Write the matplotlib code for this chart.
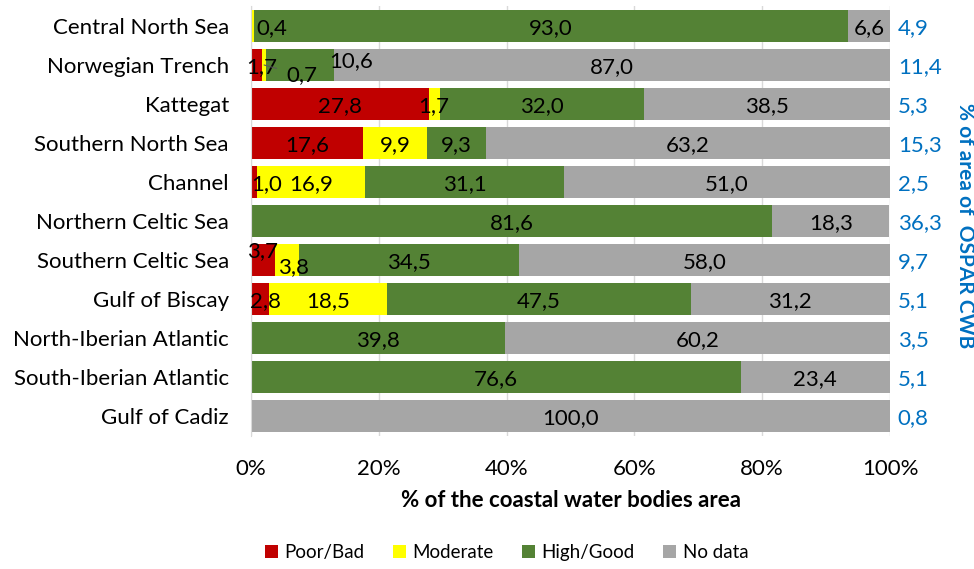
import matplotlib.pyplot as plt
import numpy as np

plt.rcParams["font.family"] = ["Lato", "DejaVu Sans"]

regions = [
    "Central North Sea", "Norwegian Trench", "Kattegat", "Southern North Sea",
    "Channel", "Northern Celtic Sea", "Southern Celtic Sea", "Gulf of Biscay",
    "North-Iberian Atlantic", "South-Iberian Atlantic", "Gulf of Cadiz",
]
poor = [0.0, 1.7, 27.8, 17.6, 1.0, 0.0, 3.7, 2.8, 0.0, 0.0, 0.0]
moderate = [0.4, 0.7, 1.7, 9.9, 16.9, 0.0, 3.8, 18.5, 0.0, 0.0, 0.0]
good = [93.0, 10.6, 32.0, 9.3, 31.1, 81.6, 34.5, 47.5, 39.8, 76.6, 0.0]
no_data = [6.6, 87.0, 38.5, 63.2, 51.0, 18.3, 58.0, 31.2, 60.2, 23.4, 100.0]
area_share = ["4,9", "11,4", "5,3", "15,3", "2,5", "36,3", "9,7", "5,1", "3,5", "5,1", "0,8"]

series = [
    ("Poor/Bad", poor, "#C00000"),
    ("Moderate", moderate, "#FFFF00"),
    ("High/Good", good, "#548235"),
    ("No data", no_data, "#A6A6A6"),
]

# manual label nudges (points) for the small segments, keyed by (row, series)
nudges = {
    (0, 1): (14, 0),
    (1, 0): (4, 0),
    (1, 1): (27, -6),
    (1, 2): (37, 4),
    (4, 0): (9, 0),
    (6, 0): (0, 8),
    (6, 1): (5, -4),
    (7, 0): (4, 0),
}
leader = {(1, 1)}

fig = plt.figure(figsize=(9.74, 5.69), dpi=100)
ax = fig.add_axes([0.2577, 0.2346, 0.6561, 0.7540])

y = np.arange(len(regions))
left = np.zeros(len(regions))
for s_idx, (name, vals, color) in enumerate(series):
    vals = np.array(vals)
    ax.barh(y, vals, left=left, height=0.8, color=color, label=name, zorder=2)
    for i, v in enumerate(vals):
        if v <= 0:
            continue
        dx, dy = nudges.get((i, s_idx), (0, 0))
        arrow = None
        if (i, s_idx) in leader:
            arrow = dict(arrowstyle="-", color="#595959", lw=0.8, shrinkA=5, shrinkB=0)
        ax.annotate(f"{v:.1f}".replace(".", ","), (left[i] + v / 2, y[i]),
                    xytext=(dx, dy), textcoords="offset points",
                    ha="center", va="center_baseline", fontsize=16, color="black", zorder=3,
                    arrowprops=arrow)
    left = left + vals

for i, txt in enumerate(area_share):
    ax.text(1.012, y[i], txt, transform=ax.get_yaxis_transform(),
            ha="left", va="center_baseline", fontsize=16, color="#0070C0")

fig.text(0.991, 0.603, "% of area of  OSPAR CWB", rotation=270, ha="center",
         va="center", fontsize=15, fontweight="bold", color="#0070C0")

ax.set_xlim(0, 100)
ax.set_ylim(len(regions) - 0.5, -0.5)
ax.set_yticks(y)
ax.set_yticklabels(regions, fontsize=16)
ax.set_xticks(np.arange(0, 101, 20))
ax.set_xticklabels([f"{t}%" for t in range(0, 101, 20)], fontsize=16)
ax.tick_params(length=0)
ax.tick_params(axis="x", pad=17)
ax.tick_params(axis="y", pad=16)
ax.grid(axis="x", color="#D9D9D9", linewidth=1, zorder=0)
for side in ["top", "right", "bottom"]:
    ax.spines[side].set_visible(False)
ax.spines["left"].set_color("#D9D9D9")
ax.set_xlabel("% of the coastal water bodies area", fontsize=16, fontweight="bold", labelpad=8)

fig.legend(loc="lower center", ncol=4, frameon=False, fontsize=13.5,
           bbox_to_anchor=(0.52, -0.015), handlelength=0.7, handleheight=0.7,
           columnspacing=1.5, handletextpad=0.35)

fig.savefig("out.png", dpi=100)
